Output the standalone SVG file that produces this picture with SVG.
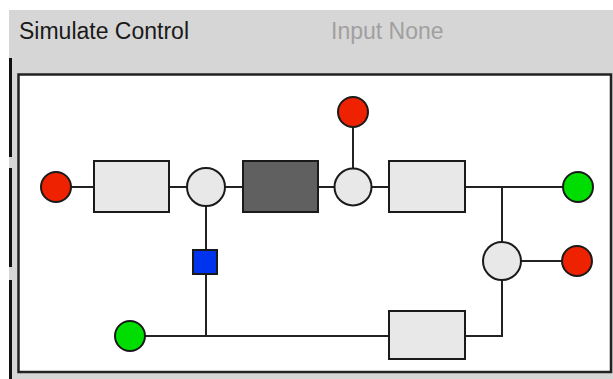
<svg xmlns="http://www.w3.org/2000/svg" width="613" height="379" viewBox="0 0 613 379">
<style>
.lbl{font-family:"Liberation Sans",Arial,sans-serif;font-size:23px}
.ln{stroke:#222;stroke-width:2;fill:none}
.nd{stroke:#1a1a1a;stroke-width:2}
.box{fill:#e8e8e8}
.red{fill:#ee2200}
.grn{fill:#00dd00}
.junc{fill:#e8e8e8}
</style>
<rect x="0" y="0" width="613" height="379" fill="#ffffff"/>
<rect x="9" y="10" width="604" height="369" fill="#d6d6d6"/>
<g id="frame">
<rect x="9" y="58" width="3" height="99" fill="#111"/>
<rect x="9" y="168" width="3" height="99" fill="#111"/>
<rect x="9" y="280" width="3" height="99" fill="#111"/>
<rect x="18.5" y="74.5" width="592.5" height="297.5" fill="#ffffff" stroke="#222" stroke-width="2.5"/>
</g>
<g id="title">
<text class="lbl" x="19" y="39" fill="#1a1a1a">Simulate Control</text>
<text class="lbl" x="331" y="39" fill="#a0a0a0">Input None</text>
</g>
<g id="connectors">
<line class="ln" x1="71" y1="187" x2="94" y2="187"/>
<line class="ln" x1="169" y1="187" x2="187" y2="187"/>
<line class="ln" x1="225" y1="187" x2="243" y2="187"/>
<line class="ln" x1="318" y1="187" x2="335" y2="187"/>
<line class="ln" x1="353" y1="127" x2="353" y2="168"/>
<line class="ln" x1="372" y1="187" x2="389" y2="187"/>
<line class="ln" x1="465" y1="187" x2="563" y2="187"/>
<line class="ln" x1="502" y1="187" x2="502" y2="242"/>
<line class="ln" x1="521" y1="261" x2="562" y2="261"/>
<polyline class="ln" points="502,280 502,336 465,336"/>
<line class="ln" x1="145" y1="336" x2="389" y2="336"/>
<line class="ln" x1="206" y1="206" x2="206" y2="250"/>
<line class="ln" x1="206" y1="274" x2="206" y2="336"/>
</g>
<g id="src-red"><circle class="nd red" cx="56" cy="187" r="15"/></g>
<g id="box1"><rect class="nd box" x="94" y="161" width="75" height="51"/></g>
<g id="junc1"><circle class="nd junc" cx="206" cy="187" r="19"/></g>
<g id="dark-box"><rect class="nd" fill="#606060" x="243" y="161" width="75" height="51"/></g>
<g id="junc2"><circle class="nd junc" cx="353" cy="187" r="18.5"/></g>
<g id="top-red"><circle class="nd red" cx="353" cy="112" r="15"/></g>
<g id="box2"><rect class="nd box" x="389" y="161" width="76" height="51"/></g>
<g id="out-green"><circle class="nd grn" cx="578" cy="187" r="15"/></g>
<g id="junc3"><circle class="nd junc" cx="502" cy="261" r="19"/></g>
<g id="right-red"><circle class="nd red" cx="577" cy="261" r="15"/></g>
<g id="box3"><rect class="nd box" x="389" y="311" width="76" height="48"/></g>
<g id="bottom-green"><circle class="nd grn" cx="130" cy="336" r="15"/></g>
<g id="blue-sq"><rect class="nd" fill="#0033ee" x="193" y="250" width="24" height="24"/></g>
</svg>
